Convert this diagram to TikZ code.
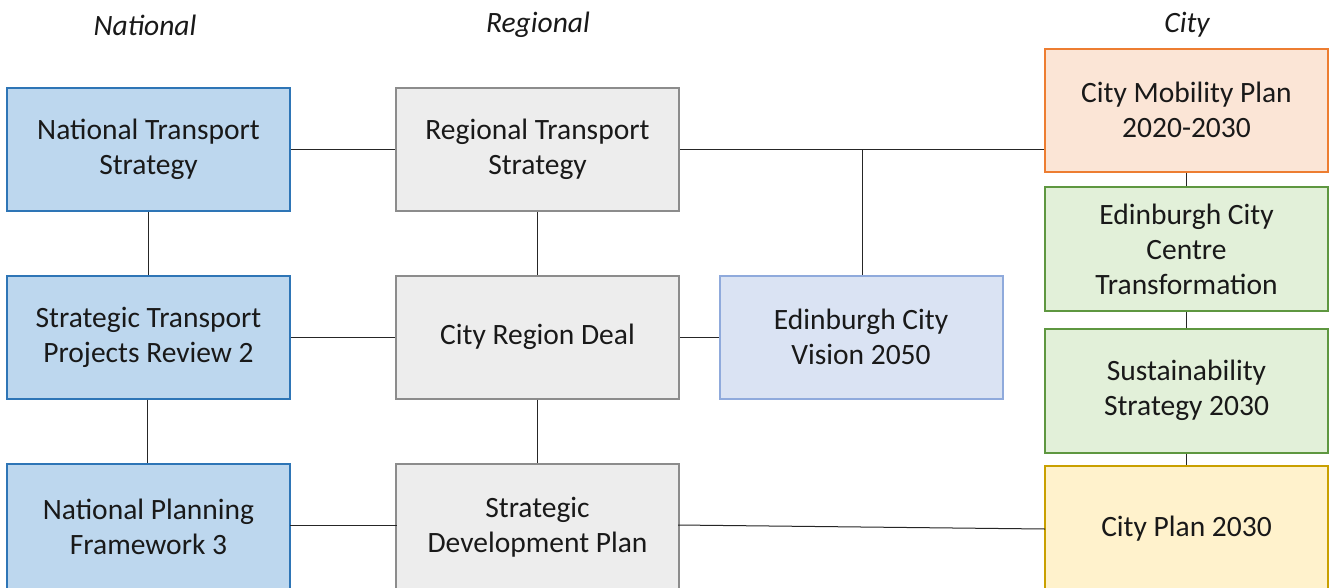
\documentclass[tikz,border=0pt]{standalone}
\usepackage{fontspec}
\setmainfont{Carlito}
\definecolor{blueF}{HTML}{BDD7EE}
\definecolor{blueD}{HTML}{2E75B6}
\definecolor{grayF}{HTML}{EDEDED}
\definecolor{grayD}{HTML}{8C8C8C}
\definecolor{visF}{HTML}{DAE3F3}
\definecolor{visD}{HTML}{8FAADC}
\definecolor{orF}{HTML}{FBE5D6}
\definecolor{orD}{HTML}{ED7D31}
\definecolor{grF}{HTML}{E2F0D9}
\definecolor{grD}{HTML}{5E9740}
\definecolor{yeF}{HTML}{FFF2CC}
\definecolor{yeD}{HTML}{C9A000}
\definecolor{lineC}{HTML}{262626}
\begin{document}
\begin{tikzpicture}[x=1pt,y=-1pt,
  box/.style={rectangle, line width=2pt, minimum width=283pt, minimum height=123pt,
    align=center, inner sep=0pt, font=\fontsize{29.5}{35}\selectfont, text=black!90},
  nat/.style={box, fill=blueF, draw=blueD},
  reg/.style={box, fill=grayF, draw=grayD},
  vis/.style={box, fill=visF, draw=visD},
  orb/.style={box, fill=orF, draw=orD},
  grb/.style={box, fill=grF, draw=grD, minimum height=124pt},
  yeb/.style={box, fill=yeF, draw=yeD},
  hdr/.style={font=\fontsize{29.5}{34}\selectfont\itshape, text=black!90},
  conn/.style={line width=1pt, draw=lineC}]
\useasboundingbox (0,0) rectangle (1334,587);
\clip (0,0) rectangle (1334,587);
\fill[white] (0,0) rectangle (1334,587);
% headers
\node[hdr] (hN) at (145,25) {National};
\node[hdr] (hR) at (538,25) {Regional};
\node[hdr] (hC) at (1187,25) {City};
% national
\node[nat] (nts) at (148.5,149.5) {National Transport\\Strategy};
\node[nat] (stpr) at (148.5,337) {Strategic Transport\\Projects Review 2};
\node[nat, minimum height=126pt] (npf) at (148.5,527) {National Planning\\Framework 3};
% regional
\node[reg] (rts) at (537.5,149.5) {Regional Transport\\Strategy};
\node[reg] (crd) at (537.5,337) {City Region Deal};
\node[reg, minimum height=126pt] (sdp) at (537.5,527) {Strategic\\Development Plan};
% vision
\node[vis] (ecv) at (861,337) {Edinburgh City\\Vision 2050};
% city
\node[orb] (cmp) at (1186.5,110) {City Mobility Plan\\2020-2030};
\node[grb] (ecct) at (1186.5,249) {Edinburgh City\\Centre\\Transformation};
\node[grb] (sus) at (1186.5,390.5) {Sustainability\\Strategy 2030};
\node[yeb, minimum height=126pt] (cp) at (1186.5,529) {City Plan 2030};
\coordinate (cpin) at (1045,529);
\coordinate (npfout) at (290,525);
\coordinate (sdpin) at (397,525);
\coordinate (sdpout) at (678,525);
\coordinate (jct) at (862,149);
% connectors
\draw[conn] (nts.east |- jct) -- (rts.west |- jct);
\draw[conn] (rts.east |- jct) -- (cmp.west |- jct);
\draw[conn] (jct) -- (ecv.north -| jct);
\draw[conn] (nts.south) -- (stpr.north);
\draw[conn] ([xshift=-1.5pt]stpr.south) -- ([xshift=-1.5pt]npf.north);
\draw[conn] (stpr.east) -- (crd.west);
\draw[conn] (crd.east) -- (ecv.west);
\draw[conn] (rts.south) -- (crd.north);
\draw[conn] (crd.south) -- (sdp.north);
\draw[conn] (npfout) -- (sdpin);
\draw[conn] (sdpout) -- (cpin);
\draw[conn] (cmp.south) -- (ecct.north);
\draw[conn] (ecct.south) -- (sus.north);
\draw[conn] (sus.south) -- (cp.north);
\end{tikzpicture}
\end{document}
